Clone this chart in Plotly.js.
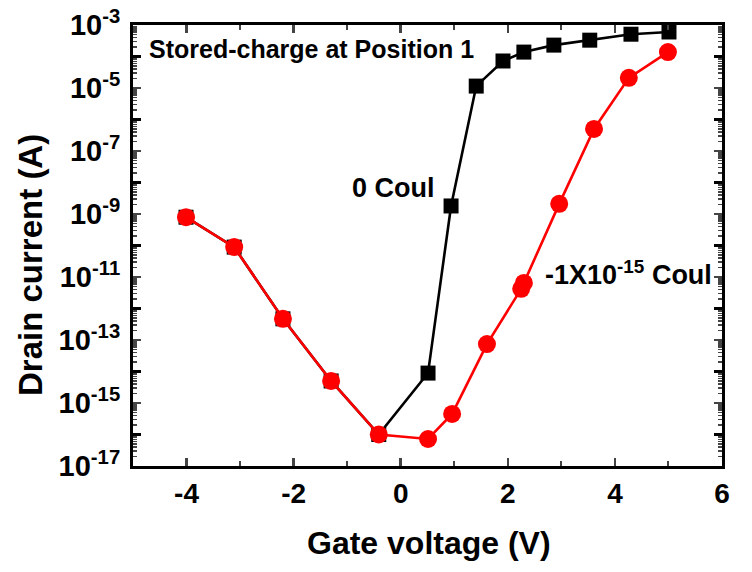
<!DOCTYPE html>
<html>
<head>
<meta charset="utf-8">
<script src="https://cdn.plot.ly/plotly-3.0.1.min.js"></script>
<style>html,body{margin:0;padding:0;background:#fff;}#chart{width:752px;height:572px;}</style>
</head>
<body>
<div id="chart"></div>
<script>
// Gate voltage (V) and drain current (A)
var gateV_0Coul = [-4.01, -3.11, -2.20, -1.30, -0.41, 0.51, 0.94, 1.41, 1.91, 2.30, 2.86, 3.53, 4.30, 5.01];
var drainI_0Coul = [7.9e-10, 8.9e-11, 4.7e-13, 5.0e-15, 1.0e-16, 8.9e-15, 1.8e-9, 1.15e-5, 7.2e-5, 1.38e-4, 2.3e-4, 3.3e-4, 5.1e-4, 6.0e-4];

var gateV_neg = [-4.01, -3.11, -2.20, -1.30, -0.41, 0.51, 0.96, 1.61, 2.25, 2.30, 2.96, 3.61, 4.26, 4.99];
var drainI_neg = [7.9e-10, 8.9e-11, 4.7e-13, 5.0e-15, 1.0e-16, 7.2e-17, 4.5e-16, 7.4e-14, 4.2e-12, 6.5e-12, 2.1e-9, 5.0e-7, 2.1e-5, 1.38e-4];

var yLabelExponents = [-17, -15, -13, -11, -9, -7, -5, -3];
var yUnlabeledExponents = [-16, -14, -12, -10, -8, -6, -4];
var xTickVals = [-4, -2, 0, 2, 4, 6];
var xTickText = ['-4', '-2', '0', '2', '4', '6'];

var yTickVals = yLabelExponents.map(function (e) { return Math.pow(10, e); });
var yTickText = yLabelExponents.map(function (e) { return '10<sup>' + e + '</sup>'; });
var yEvenVals = yUnlabeledExponents.map(function (e) { return Math.pow(10, e); });
var yMinor = [];
for (var e = -17; e < -3; e++) {
  for (var m = 2; m <= 9; m++) yMinor.push(m * Math.pow(10, e));
}

var FONT = 'Liberation Sans, Arial, sans-serif';

var traces = [
  {
    x: gateV_0Coul, y: drainI_0Coul, mode: 'lines+markers', type: 'scatter',
    xaxis: 'x', yaxis: 'y',
    line: {color: '#000000', width: 2.6},
    marker: {symbol: 'square', size: 15, color: '#000000'},
    showlegend: false
  },
  {
    x: gateV_neg, y: drainI_neg, mode: 'lines+markers', type: 'scatter',
    xaxis: 'x', yaxis: 'y2',
    line: {color: '#ff0000', width: 2.6},
    marker: {symbol: 'circle', size: 18, color: '#ff0000'},
    showlegend: false
  }
];

var layout = {
  width: 752, height: 572,
  margin: {l: 133, r: 30, t: 25, b: 106},
  paper_bgcolor: '#ffffff', plot_bgcolor: '#ffffff',
  font: {family: FONT, color: '#000000', size: 28, weight: 'bold'},
  xaxis: {
    range: [-5, 6], tickmode: 'array', tickvals: xTickVals, ticktext: xTickText,
    ticks: 'inside', ticklen: 8, tickwidth: 2.5,
    showline: true, linewidth: 3, linecolor: '#000', mirror: 'ticks',
    showgrid: false, zeroline: false,
    tickfont: {family: FONT, size: 28, weight: 'bold'},
    ticklabelstandoff: 0,
    minor: {dtick: 1, tick0: 0, ticks: 'inside', ticklen: 5, tickwidth: 2, showgrid: false}
  },
  yaxis: {
    type: 'log', range: [-17, -3], tickmode: 'array', tickvals: yTickVals, ticktext: yTickText,
    ticks: 'inside', ticklen: 8, tickwidth: 2.5,
    showline: true, linewidth: 3, linecolor: '#000', mirror: 'ticks',
    showgrid: false, zeroline: false,
    tickfont: {family: FONT, size: 29, weight: 'bold'},
    ticklabelstandoff: 4,
    minor: {tickmode: 'array', tickvals: yMinor, ticks: 'inside', ticklen: 4, tickwidth: 1.5, showgrid: false}
  },
  yaxis2: {
    type: 'log', range: [-17, -3], overlaying: 'y', side: 'left', anchor: 'x',
    tickmode: 'array', tickvals: yEvenVals, showticklabels: false,
    ticks: 'inside', ticklen: 8, tickwidth: 2.5, tickcolor: '#000',
    showline: false, mirror: 'ticks',
    showgrid: false, zeroline: false
  },
  annotations: [
    {text: 'Stored-charge at Position 1', xref: 'paper', yref: 'paper', x: 0.024, y: 0.946,
     xanchor: 'left', yanchor: 'middle', showarrow: false, font: {family: FONT, size: 25, weight: 'bold'}},
    {text: '0 Coul', xref: 'paper', yref: 'paper', x: 0.443, y: 0.630,
     xanchor: 'center', yanchor: 'middle', showarrow: false, font: {family: FONT, size: 27, weight: 'bold'}},
    {text: '-1X10<sup>-15</sup> Coul', xref: 'paper', yref: 'paper', x: 0.696, y: 0.437,
     xanchor: 'left', yanchor: 'middle', showarrow: false, font: {family: FONT, size: 27, weight: 'bold'}},
    {text: 'Gate voltage (V)', xref: 'paper', yref: 'paper', x: 0.503, y: -0.175,
     xanchor: 'center', yanchor: 'middle', showarrow: false, font: {family: FONT, size: 32, weight: 'bold'}},
    {text: 'Drain current (A)', xref: 'paper', yref: 'paper', x: -0.173, y: 0.456, textangle: -90,
     xanchor: 'center', yanchor: 'middle', showarrow: false, font: {family: FONT, size: 33, weight: 'bold'}}
  ]
};

Plotly.newPlot('chart', traces, layout, {displayModeBar: false, staticPlot: true});
</script>
</body>
</html>
